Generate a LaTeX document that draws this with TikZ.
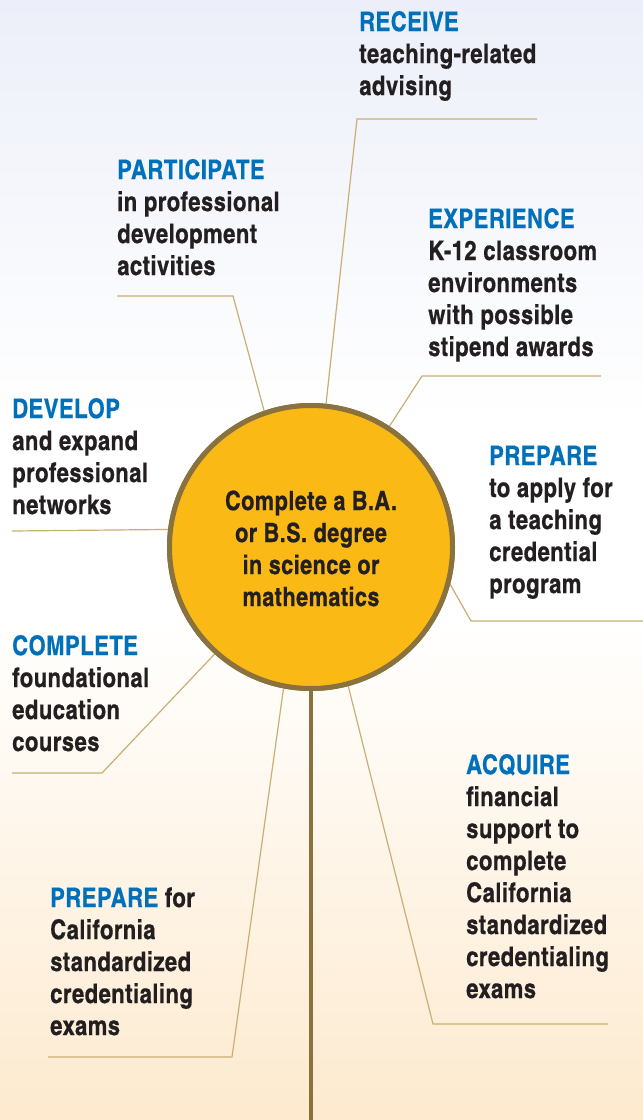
\documentclass[tikz,border=0pt]{standalone}
\usepackage{fontspec}
\setmainfont{TeX Gyre Heros Cn}[BoldFont={* Bold}, BoldFeatures={LetterSpace=1.5, FakeBold=0.5}]
\definecolor{hdblue}{RGB}{0,112,186}
\definecolor{txtdark}{RGB}{35,31,32}
\definecolor{ringbrown}{RGB}{138,114,62}
\definecolor{linetan}{RGB}{200,175,115}
\definecolor{sunfill}{RGB}{251,185,22}
\definecolor{topblue}{RGB}{236,239,249}
\definecolor{botpeach}{RGB}{253,234,207}
\tikzset{
  item/.style={anchor=base west, align=left, inner sep=0pt, text=txtdark,
    font=\fontsize{27}{32}\selectfont\bfseries},
  leader/.style={draw=linetan, line width=1.2pt},
  hubstyle/.style={circle, draw=ringbrown, line width=5pt, fill=sunfill,
    minimum size=283pt, inner sep=0pt},
  hubtext/.style={anchor=base, align=center, inner sep=0pt, text=txtdark,
    font=\fontsize{26.5}{32}\selectfont\bfseries},
}
\newcommand{\hd}[1]{\textcolor{hdblue}{#1}}
\begin{document}
\begin{tikzpicture}[x=1pt,y=1pt]
\useasboundingbox (0,0) rectangle (643,-1120);
% background
\fill[white] (0,0) rectangle (643,-1120);
\shade[top color=topblue, bottom color=white] (0,0) rectangle (643,-420);
\shade[top color=white, bottom color=botpeach] (0,-620) rectangle (643,-1120);

% hub placeholder for anchors
\node[hubstyle] (hub) at (311,-547) {};

% leader coordinates
\coordinate (rcvK) at (357,-119);  \coordinate (rcvE) at (537,-119);
\coordinate (expK) at (422,-376);  \coordinate (expE) at (601,-376);
\coordinate (parK) at (233,-296);  \coordinate (parE) at (117,-296);
\coordinate (devE) at (12,-531);
\coordinate (prrK) at (471,-621);  \coordinate (prrE) at (643,-621);
\coordinate (cmpK) at (102,-773);  \coordinate (cmpE) at (12,-773);
\coordinate (pblK) at (232,-1057); \coordinate (pblE) at (48,-1057);
\coordinate (acqK) at (433,-1024); \coordinate (acqE) at (608,-1024);
\coordinate (stemE) at (311,-1120);

\draw[leader] (hub.84) -- (rcvK) -- (rcvE);
\draw[leader] (hub.57.5) -- (expK) -- (expE);
\draw[leader] (hub.109) -- (parK) -- (parE);
\draw[leader] (hub.173.7) -- (devE);
\draw[leader] (hub.-15.8) -- (prrK) -- (prrE);
\draw[leader] (hub.228.3) -- (cmpK) -- (cmpE);
\draw[leader] (hub.-101) -- (pblK) -- (pblE);
\draw[leader] (hub.-75.8) -- (acqK) -- (acqE);
\draw[draw=ringbrown, line width=4.5pt] (hub.south) -- (stemE);

% hub drawn on top
\node[hubstyle] (hubtop) at (311,-547) {};
\node[hubtext] (hubtxt) at (311,-606) {Complete a B.A.\\or B.S. degree\\in science or\\mathematics};

% text items (anchored at the baseline of the last line)
\node[item] (receive) at (359,-95) {\hd{RECEIVE}\\teaching-related\\advising};
\node[item] (participate) at (117,-275) {\hd{PARTICIPATE}\\in professional\\development\\activities};
\node[item] (experience) at (428,-356) {\hd{EXPERIENCE}\\K-12 classroom\\environments\\with possible\\stipend awards};
\node[item] (develop) at (12,-514) {\hd{DEVELOP}\\and expand\\professional\\networks};
\node[item] (prepr) at (489,-593) {\hd{PREPARE}\\to apply for\\a teaching\\credential\\program};
\node[item] (complete) at (12,-751) {\hd{COMPLETE}\\foundational\\education\\courses};
\node[item] (acquire) at (466,-998) {\hd{ACQUIRE}\\financial\\support to\\complete\\California\\standardized\\credentialing\\exams};
\node[item] (prepbl) at (50,-1035) {\hd{PREPARE} for\\California\\standardized\\credentialing\\exams};
\end{tikzpicture}
\end{document}
